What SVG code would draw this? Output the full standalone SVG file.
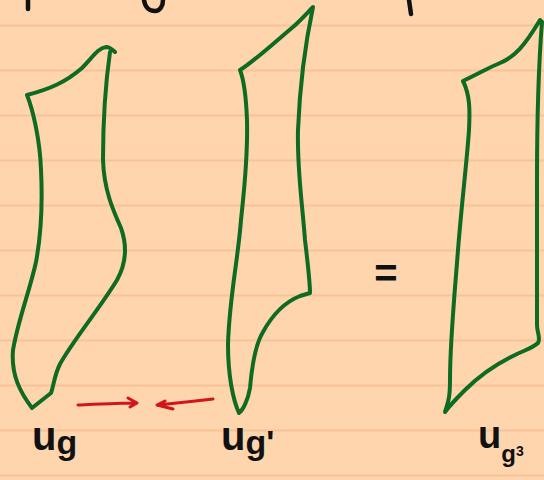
<svg xmlns="http://www.w3.org/2000/svg" width="544" height="480" viewBox="0 0 544 480">
<defs>
<style>
.rule{stroke:#F8C497;stroke-width:1.8}
.shape{fill:none;stroke:#0F6A22;stroke-width:4;stroke-linecap:round;stroke-linejoin:round}
.ink{fill:none;stroke:#111;stroke-width:4.5;stroke-linecap:round}
.arrow{fill:none;stroke:#D2151B;stroke-width:3;stroke-linecap:round;stroke-linejoin:round}
.lbl{font-family:"Liberation Sans","DejaVu Sans",sans-serif;fill:#111;font-weight:bold}
</style>
</defs>
<rect width="544" height="480" fill="#FED5AD"/>
<g id="paper-lines">
<line class="rule" x1="0" y1="25.5" x2="544" y2="25.5"/>
<line class="rule" x1="0" y1="70.5" x2="544" y2="70.5"/>
<line class="rule" x1="0" y1="115.5" x2="544" y2="115.5"/>
<line class="rule" x1="0" y1="160.5" x2="544" y2="160.5"/>
<line class="rule" x1="0" y1="205.5" x2="544" y2="205.5"/>
<line class="rule" x1="0" y1="250.5" x2="544" y2="250.5"/>
<line class="rule" x1="0" y1="295.5" x2="544" y2="295.5"/>
<line class="rule" x1="0" y1="340.5" x2="544" y2="340.5"/>
<line class="rule" x1="0" y1="385.5" x2="544" y2="385.5"/>
<line class="rule" x1="0" y1="430.5" x2="544" y2="430.5"/>
<line class="rule" x1="0" y1="475.5" x2="544" y2="475.5"/>
</g>
<g id="top-fragments">
<path class="ink" d="M28,0 L28,9"/>
<path class="ink" d="M144,0 C145,8 150,11 155,11 C160,11 163,6 163,0"/>
<path class="ink" d="M409,0 L411,14"/>
</g>
<g id="node-ug">
<path class="shape" d="M115,52 C112,49 109,47 106,47 C98,48 92,58 82,68 C66,82 50,89 27,95 C33,110 40,140 41,170 C43,210 41,235 36,262 C30,290 18,320 13,350 C11,375 20,392 32,408 L51,393 C54,385 54,376 60,364 C72,342 100,308 117,280 C127,262 127,245 121,228 C113,210 104,190 103,160 C103,120 106,80 110,52"/>
<text class="lbl" x="32" y="450" font-size="40">u<tspan font-size="34" dy="4">g</tspan></text>
</g>
<g id="node-ug-prime">
<path class="shape" d="M240,70 C252,63 275,42 293,27 C302,19 308,12 313,7 C306,40 300,80 298,130 C297,170 302,200 305,240 C308,265 310,285 310,293 L300,296 C290,300 275,310 263,332 C255,345 252,365 250,388 C248,400 243,410 239,413 C233,400 228,375 228,345 C229,300 238,260 241,220 C244,190 248,160 247,120 C246,95 244,80 240,70 Z"/>
<text class="lbl" x="221" y="450" font-size="40">u<tspan font-size="34" dy="4">g'</tspan></text>
</g>
<g id="node-ug3">
<path class="shape" d="M463,81 C478,74 490,67 500,63 C515,57 525,45 540,20 L542,22 C539,60 537,100 537,180 C537,260 537,310 537,325 C537,333 541,338 538,343 C533,348 525,350 515,355 C500,362 480,375 465,390 C455,400 450,405 445,412 C449,400 450,395 450,380 C450,340 455,290 458,250 C462,200 467,160 469,130 C470,110 470,95 463,81"/>
<text class="lbl" x="478" y="448" font-size="38">u<tspan font-size="24" dy="14">g</tspan><tspan font-size="14" dy="-6">3</tspan></text>
</g>
<g id="equals">
<text class="lbl" x="386" y="287" font-size="40" text-anchor="middle">=</text>
</g>
<g id="connectors">
<path class="arrow" d="M78,405 C100,404 120,403 137,403 M128,398 L137,403 L130,407"/>
<path class="arrow" d="M213,399 C195,401 175,403 158,405 M165,401 L157,405 L173,409"/>
</g>
</svg>
